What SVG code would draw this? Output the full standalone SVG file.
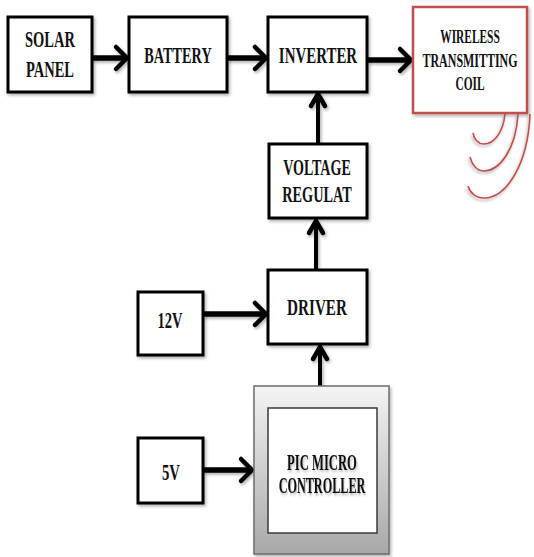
<svg xmlns="http://www.w3.org/2000/svg" width="534" height="557" viewBox="0 0 534 557">
<defs>
<style>
.box{fill:#fff;stroke:#000;stroke-width:3;filter:url(#sh)}
.red{fill:#fff;stroke:#c0504d;stroke-width:2.5;filter:url(#sh)}
.t{font-family:"Liberation Serif","Times New Roman",serif;font-weight:bold;font-size:23px;fill:#111;text-anchor:middle}
.ts{font-size:19px}
.h{stroke:#000;stroke-width:5.5;fill:none}
.v{stroke:#000;stroke-width:4;fill:none}
.hd{stroke:#000;stroke-width:4.5;fill:none;stroke-linecap:round;stroke-linejoin:round}
.arc{stroke:#c0504d;stroke-width:1.6;fill:none;filter:url(#sh2)}
</style>
<filter id="sh" x="-10%" y="-10%" width="125%" height="125%">
<feDropShadow dx="1.5" dy="2" stdDeviation="1.5" flood-color="#000" flood-opacity="0.3"/>
</filter>
<filter id="sh2" x="-20%" y="-20%" width="150%" height="150%">
<feDropShadow dx="-1" dy="2" stdDeviation="1.5" flood-color="#000" flood-opacity="0.35"/>
</filter>
<linearGradient id="g" x1="0" y1="0" x2="0" y2="1">
<stop offset="0" stop-color="#f4f4f4"/>
<stop offset="1" stop-color="#a8a8a8"/>
</linearGradient>
</defs>

<g id="connectors" filter="url(#sh)">
<line class="h" x1="92" y1="58" x2="126" y2="58"/>
<path class="hd" d="M116,47 L127,58 L116,69"/>
<line class="h" x1="227" y1="58" x2="265" y2="58"/>
<path class="hd" d="M255,47 L266,58 L255,69"/>
<line class="h" x1="367" y1="60" x2="410" y2="60"/>
<path class="hd" d="M400,49 L411,60 L400,71"/>
<line class="v" x1="318" y1="144" x2="318" y2="95"/>
<path class="hd" d="M311,106 L318,94 L325,106"/>
<line class="v" x1="316" y1="270" x2="316" y2="221"/>
<path class="hd" d="M309,233 L316,221 L323,233"/>
<line class="h" x1="203" y1="314" x2="265" y2="314"/>
<path class="hd" d="M255,303 L266,314 L255,325"/>
<line class="v" x1="320" y1="386" x2="320" y2="348"/>
<path class="hd" d="M313,359 L320,347 L327,359"/>
<line class="h" x1="203" y1="470" x2="251" y2="470"/>
<path class="hd" d="M241,459 L252,470 L241,481"/>
</g>

<g id="solar">
<rect class="box" x="8" y="17" width="84" height="75"/>
<text class="t" transform="translate(50,47) scale(0.63,1)">SOLAR</text>
<text class="t" transform="translate(50,77) scale(0.63,1)">PANEL</text>
</g>

<g id="battery">
<rect class="box" x="129" y="17" width="98" height="75"/>
<text class="t" transform="translate(178,63) scale(0.62,1)">BATTERY</text>
</g>

<g id="inverter">
<rect class="box" x="268" y="17" width="99" height="75"/>
<text class="t" transform="translate(318,63) scale(0.65,1)">INVERTER</text>
</g>

<g id="wireless">
<rect class="red" x="413" y="7" width="114" height="106"/>
<text class="t ts" transform="translate(470,43) scale(0.6,1)">WIRELESS</text>
<text class="t ts" transform="translate(470,67) scale(0.63,1)">TRANSMITTING</text>
<text class="t ts" transform="translate(470,90) scale(0.6,1)">COIL</text>
</g>

<g id="coil-waves">
<path class="arc" d="M505,114 C503,134 493,144 484,144 C478,144 474,139 473,133"/>
<path class="arc" d="M518,114 C516,150 499,171 484,171 C477,171 472,165 470,157"/>
<path class="arc" d="M530,114 C528,165 506,198 484,198 C476,198 470,193 468,186"/>
</g>

<g id="voltage-regulator">
<rect class="box" x="269" y="144" width="98" height="74"/>
<text class="t" transform="translate(317,175) scale(0.61,1)">VOLTAGE</text>
<text class="t" transform="translate(317,202) scale(0.62,1)">REGULAT</text>
</g>

<g id="driver">
<rect class="box" x="268" y="270" width="99" height="74"/>
<text class="t" transform="translate(317,315) scale(0.66,1)">DRIVER</text>
</g>

<g id="v12">
<rect class="box" x="138" y="292" width="65" height="63"/>
<text class="t" transform="translate(170,328) scale(0.63,1)">12V</text>
</g>

<g id="pic">
<rect x="254" y="386" width="135" height="168" fill="url(#g)" stroke="#6e6e6e" stroke-width="1.5" filter="url(#sh)"/>
<rect x="268" y="408" width="109" height="125" fill="#fff" stroke="#3a3a3a" stroke-width="1.5"/>
<text class="t" transform="translate(322,470) scale(0.55,1)" filter="url(#sh)">PIC MICRO</text>
<text class="t" transform="translate(322,493) scale(0.53,1)" filter="url(#sh)">CONTROLLER</text>
</g>

<g id="v5">
<rect class="box" x="138" y="438" width="65" height="65"/>
<text class="t" transform="translate(171,480) scale(0.64,1)">5V</text>
</g>
</svg>
